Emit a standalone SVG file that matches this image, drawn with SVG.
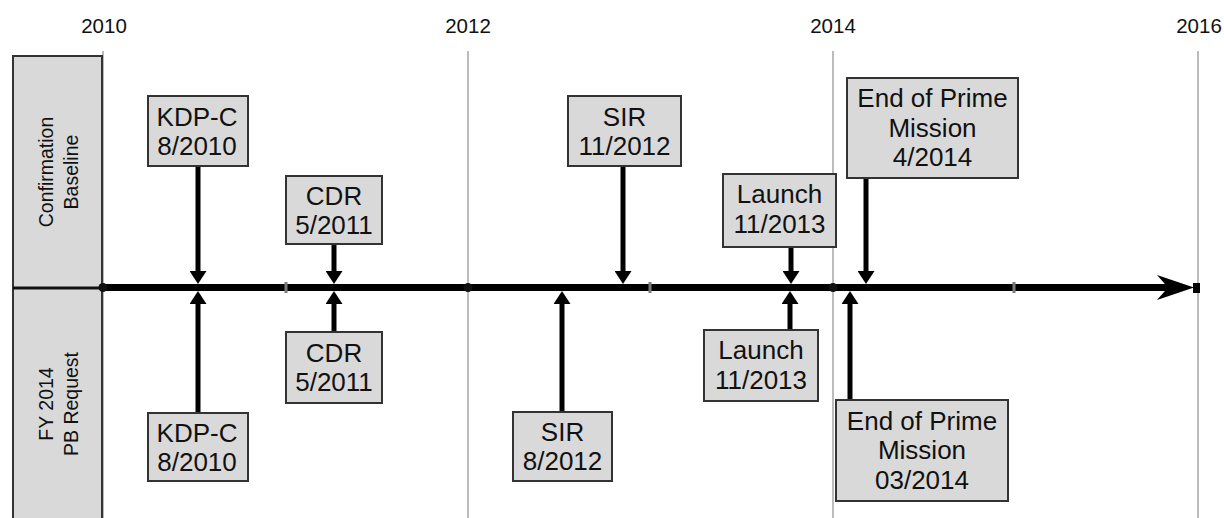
<svg xmlns="http://www.w3.org/2000/svg" width="1224" height="518" viewBox="0 0 1224 518">
<style>
.yr{font-family:"Liberation Sans",Arial,sans-serif;font-size:20.5px;fill:#111;text-anchor:middle}
.grid{stroke:#a6a6a6;stroke-width:1.5}
.hdr{fill:#d9d9d9;stroke:#333;stroke-width:2}
.hdrt{font-family:"Liberation Sans",Arial,sans-serif;font-size:19.5px;fill:#111;text-anchor:middle}
.box{fill:#d9d9d9;stroke:#333;stroke-width:2}
.lbl{font-family:"Liberation Sans",Arial,sans-serif;font-size:26px;fill:#111;text-anchor:middle}
.arr{stroke:#000;stroke-width:5;fill:none;marker-end:url(#ah)}
.tick{fill:#7a7a7a}
</style>
<defs>
<marker id="ah" viewBox="0 0 13 17" refX="5" refY="8.5" markerWidth="13" markerHeight="17" markerUnits="userSpaceOnUse" orient="auto">
<path d="M0,0 L13,8.5 L0,17 Z" fill="#000"/>
</marker>
</defs>
<rect width="1224" height="518" fill="#fff"/>
<g id="years">
<text class="yr" x="104" y="33">2010</text>
<text class="yr" x="468" y="33">2012</text>
<text class="yr" x="833" y="33">2014</text>
<text class="yr" x="1199" y="33">2016</text>
</g>
<g id="gridlines">
<line class="grid" x1="103" y1="51" x2="103" y2="518"/>
<line class="grid" x1="468" y1="51" x2="468" y2="518"/>
<line class="grid" x1="833" y1="51" x2="833" y2="518"/>
<line class="grid" x1="1198" y1="51" x2="1198" y2="518"/>
</g>
<g id="header-baseline">
<rect class="hdr" x="13" y="56" width="89" height="232"/>
<text class="hdrt" transform="translate(53,172) rotate(-90)">Confirmation</text>
<text class="hdrt" transform="translate(78,172) rotate(-90)">Baseline</text>
</g>
<g id="header-pb">
<rect class="hdr" x="13" y="288" width="89" height="240"/>
<text class="hdrt" transform="translate(53,404) rotate(-90)">FY 2014</text>
<text class="hdrt" transform="translate(78,404) rotate(-90)">PB Request</text>
</g>
<g id="connectors">
<line x1="13" y1="288" x2="103" y2="288" stroke="#111" stroke-width="3"/>
<line x1="103" y1="287.5" x2="1170" y2="287.5" stroke="#000" stroke-width="7"/>
<path d="M1194,287.5 L1157,275 L1168,287.5 L1157,300 Z" fill="#000"/>
<rect x="1193" y="283" width="7" height="10" fill="#000"/>
<rect class="tick" x="284.5" y="282" width="3" height="11"/>
<rect class="tick" x="648.5" y="282" width="3" height="11"/>
<rect class="tick" x="1012.5" y="282" width="3" height="11"/>
<circle cx="103" cy="287.5" r="4.5" fill="#111"/>
<circle cx="468" cy="287.5" r="4.5" fill="#111"/>
<circle cx="833" cy="287.5" r="4.5" fill="#111"/>
<line class="arr" x1="198" y1="166" x2="198" y2="276"/>
<line class="arr" x1="334" y1="244" x2="334" y2="276"/>
<line class="arr" x1="623" y1="166" x2="623" y2="276"/>
<line class="arr" x1="791" y1="247" x2="791" y2="276"/>
<line class="arr" x1="866" y1="178" x2="866" y2="276"/>
<line class="arr" x1="198" y1="413" x2="198" y2="299"/>
<line class="arr" x1="334" y1="332" x2="334" y2="299"/>
<line class="arr" x1="562" y1="412" x2="562" y2="299"/>
<line class="arr" x1="790" y1="330" x2="790" y2="299"/>
<line class="arr" x1="850" y1="400" x2="850" y2="299"/>
</g>
<g id="top-kdpc">
<rect class="box" x="148" y="96" width="100" height="70"/>
<text class="lbl" x="197" y="126">KDP-C</text>
<text class="lbl" x="197" y="155">8/2010</text>
</g>
<g id="top-cdr">
<rect class="box" x="286" y="176" width="96" height="68"/>
<text class="lbl" x="334" y="205">CDR</text>
<text class="lbl" x="334" y="234">5/2011</text>
</g>
<g id="top-sir">
<rect class="box" x="568" y="96" width="113" height="70"/>
<text class="lbl" x="624.5" y="126">SIR</text>
<text class="lbl" x="624.5" y="155">11/2012</text>
</g>
<g id="top-launch">
<rect class="box" x="723" y="174" width="113" height="73"/>
<text class="lbl" x="779.5" y="203">Launch</text>
<text class="lbl" x="779.5" y="233">11/2013</text>
</g>
<g id="top-eopm">
<rect class="box" x="847" y="78" width="171" height="100"/>
<text class="lbl" x="932.5" y="107">End of Prime</text>
<text class="lbl" x="932.5" y="137">Mission</text>
<text class="lbl" x="932.5" y="166">4/2014</text>
</g>
<g id="bot-kdpc">
<rect class="box" x="148" y="413" width="100" height="68"/>
<text class="lbl" x="197" y="442">KDP-C</text>
<text class="lbl" x="197" y="471">8/2010</text>
</g>
<g id="bot-cdr">
<rect class="box" x="286" y="332" width="96" height="71"/>
<text class="lbl" x="334" y="362">CDR</text>
<text class="lbl" x="334" y="391">5/2011</text>
</g>
<g id="bot-sir">
<rect class="box" x="513" y="412" width="99" height="69"/>
<text class="lbl" x="562.5" y="441">SIR</text>
<text class="lbl" x="562.5" y="470">8/2012</text>
</g>
<g id="bot-launch">
<rect class="box" x="704" y="330" width="114" height="71"/>
<text class="lbl" x="761" y="359">Launch</text>
<text class="lbl" x="761" y="389">11/2013</text>
</g>
<g id="bot-eopm">
<rect class="box" x="836" y="400" width="172" height="101"/>
<text class="lbl" x="922" y="430">End of Prime</text>
<text class="lbl" x="922" y="459">Mission</text>
<text class="lbl" x="922" y="489">03/2014</text>
</g>
</svg>
